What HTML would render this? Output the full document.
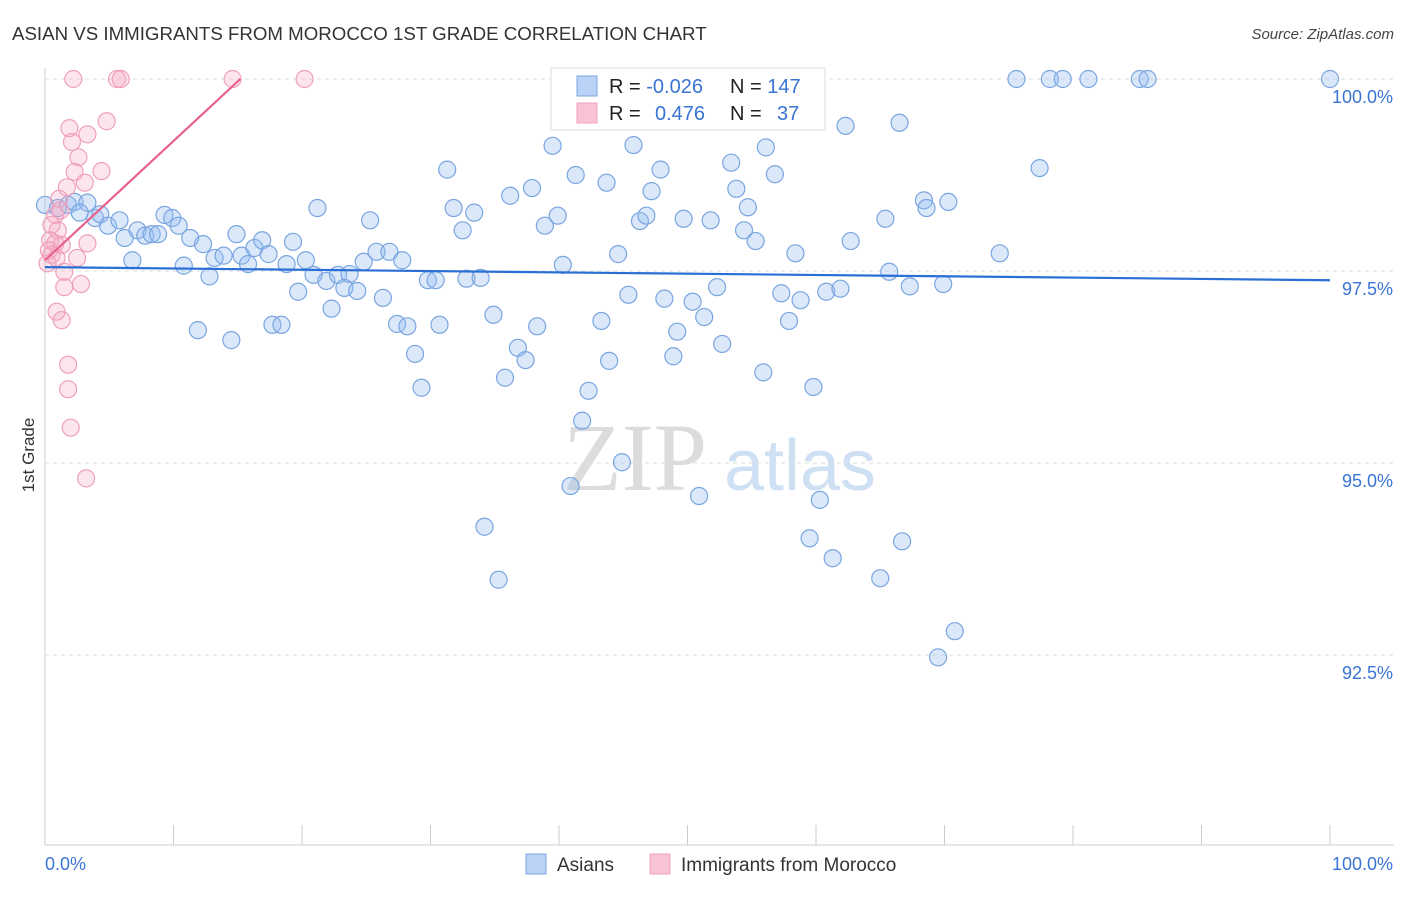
<!DOCTYPE html>
<html><head><meta charset="utf-8"><style>
body{margin:0;background:#fff;font-family:"Liberation Sans",sans-serif}
</style></head><body>
<svg id="chart" width="1406" height="892" xmlns="http://www.w3.org/2000/svg" font-family="Liberation Sans, sans-serif">
<text x="12" y="40" font-size="18.7" fill="#333">ASIAN VS IMMIGRANTS FROM MOROCCO 1ST GRADE CORRELATION CHART</text>
<text x="1394" y="39" font-size="15" fill="#444" text-anchor="end" font-style="italic">Source: ZipAtlas.com</text>
<text x="34" y="455" font-size="17" fill="#333" text-anchor="middle" transform="rotate(-90 34 455)">1st Grade</text>
<g id="grid"></g>
<g>
<text x="635" y="490" font-size="96" fill="#dcdcdc" text-anchor="middle" font-family="Liberation Serif, serif">ZIP</text>
<text x="800" y="490" font-size="72" fill="#cfe0f4" text-anchor="middle">atlas</text>
</g>
<g id="pts"></g>
<g id="lines"></g>
<g>
<rect x="551" y="68" width="274" height="62" fill="#fff" stroke="#ddd"/>
<rect x="577" y="76" width="20" height="20" fill="#b9d2f5" stroke="#7aa5e0"/>
<rect x="577" y="103" width="20" height="20" fill="#f8c4d4" stroke="#f0a0bc"/>
<text x="609" y="93" font-size="20" fill="#222">R = <tspan fill="#3a74d4">-0.026</tspan><tspan x="730">N = </tspan><tspan fill="#3a74d4">147</tspan></text>
<text x="609" y="120" font-size="20" fill="#222">R = <tspan x="655" fill="#3a74d4">0.476</tspan><tspan x="730">N = </tspan><tspan x="777" fill="#3a74d4">37</tspan></text>
</g>
<g>
<rect x="526" y="854" width="20" height="20" fill="#b9d2f5" stroke="#7aa5e0"/>
<text x="557" y="871" font-size="19" fill="#333">Asians</text>
<rect x="650" y="854" width="20" height="20" fill="#f8c4d4" stroke="#f0a0bc"/>
<text x="681" y="871" font-size="19" fill="#333">Immigrants from Morocco</text>
</g>
</svg>
<script>
const yTicks=[100,97.5,95,92.5];
const yTickLabels=["100.0%","97.5%","95.0%","92.5%"];
const xTickLabels=["0.0%","100.0%"];
const blueX=[0,1,1.8,2.3,3.3,2.7,3.9,4.3,4.9,5.8,6.2,7.2,7.8,8.3,8.8,9.3,9.9,10.4,11.3,12.3,6.8,10.8,11.9,12.8,13.2,13.9,14.5,14.9,15.3,15.8,16.3,16.9,17.4,17.7,18.4,18.8,19.3,19.7,20.3,20.9,21.2,21.9,22.3,22.8,23.3,23.7,24.3,24.8,25.3,25.8,26.3,26.8,27.4,27.8,28.2,28.8,29.3,29.8,30.4,30.7,31.3,31.8,32.5,32.8,33.4,33.9,34.2,34.9,35.3,35.8,36.2,36.8,37.4,37.9,38.3,38.9,39.5,39.9,40.3,40.9,41.3,41.8,42.3,43.3,43.7,43.9,44.6,44.9,45.4,45.8,46.3,46.8,47.2,47.9,48.2,48.9,49.2,49.7,50.4,50.9,51.3,51.8,52.3,52.7,53.4,53.8,54.4,54.7,55.3,55.9,56.1,56.8,57.3,57.9,58.4,58.8,59.5,59.8,60.3,60.8,61.3,61.9,62.3,62.7,65,65.4,65.7,66.5,66.7,67.3,68.4,68.6,69.5,69.9,70.3,70.8,74.3,75.6,77.4,78.2,79.2,81.2,85.2,85.8,100];
const blueY=[98.36,98.32,98.36,98.4,98.39,98.26,98.19,98.24,98.09,98.16,97.93,98.03,97.96,97.98,97.98,98.23,98.19,98.09,97.93,97.85,97.64,97.57,96.73,97.43,97.67,97.7,96.6,97.98,97.7,97.59,97.8,97.9,97.72,96.8,96.8,97.59,97.88,97.23,97.64,97.45,98.32,97.37,97.01,97.45,97.28,97.46,97.24,97.62,98.16,97.75,97.15,97.75,96.81,97.64,96.78,96.42,95.98,97.38,97.38,96.8,98.82,98.32,98.03,97.4,98.26,97.41,94.17,96.93,93.48,96.11,98.48,96.5,96.34,98.58,96.78,98.09,99.13,98.22,97.58,94.7,98.75,95.55,95.94,96.85,98.65,96.33,97.72,95.01,97.19,99.14,98.15,98.22,98.54,98.82,97.14,96.39,96.71,98.18,97.1,94.57,96.9,98.16,97.29,96.55,98.91,98.57,98.03,98.33,97.89,96.18,99.11,98.76,97.21,96.85,97.73,97.12,94.02,95.99,94.52,97.23,93.76,97.27,99.39,97.89,93.5,98.18,97.49,99.43,93.98,97.3,98.42,98.32,92.47,97.33,98.4,92.81,97.73,100,98.84,100,100,100,100,100,100];
const pinkX=[2.2,5.6,5.9,14.6,20.2,1.9,4.8,3.3,2.1,2.6,2.3,4.4,3.1,1.7,1.1,0.8,1.2,0.5,1,0.4,0.8,1.3,3.3,0.3,0.5,0.9,2.5,0.2,1.5,1.5,2.8,0.9,1.3,1.8,1.8,2,3.2];
const pinkY=[100,100,100,100,100,99.36,99.45,99.28,99.18,98.98,98.79,98.8,98.65,98.59,98.44,98.23,98.29,98.1,98.03,97.9,97.86,97.84,97.86,97.77,97.71,97.67,97.67,97.6,97.49,97.29,97.33,96.97,96.86,96.28,95.96,95.46,94.8];
const blueTrendX=[0,100], blueTrendY=[97.55,97.38];
const pinkTrendX=[0,15.2], pinkTrendY=[97.64,100];

const X0=45,X1=1330,Y100=79,PX_PER=76.8;
const sx=v=>X0+(X1-X0)*v/100;
const sy=v=>Y100+(100-v)*PX_PER;
const NS="http://www.w3.org/2000/svg";
function mk(tag,attrs,parent){const e=document.createElementNS(NS,tag);for(const k in attrs)e.setAttribute(k,attrs[k]);parent.appendChild(e);return e;}
const grid=document.getElementById('grid');
mk('line',{x1:45,y1:68,x2:45,y2:845,stroke:'#ccc'},grid);
mk('line',{x1:45,y1:845,x2:1394,y2:845,stroke:'#ccc'},grid);
yTicks.forEach((t,i)=>{
 const gl=mk('line',{x1:45,y1:sy(t),x2:1394,y2:sy(t),stroke:'#ddd','stroke-dasharray':'4,4'},grid);
 
 
 const tx=mk('text',{x:1393,y:sy(t)+24,'font-size':18,fill:'#3a74d4','text-anchor':'end'},grid);
 tx.textContent=yTickLabels[i];
 
 
});
for(let i=0;i<=10;i++){
 const tk=mk('line',{x1:sx(i*10),y1:825,x2:sx(i*10),y2:845,stroke:'#ccc'},grid);
 
 
}
[[0,'start',45],[100,'end',1393]].forEach((a,i)=>{
 const tx=mk('text',{x:a[2],y:870,'font-size':18,fill:'#3a74d4','text-anchor':a[1]},grid);
 tx.textContent=xTickLabels[i];
 
 
});
const pts=document.getElementById('pts');
blueX.forEach((v,i)=>{
 const c=mk('circle',{cx:sx(v),cy:sy(blueY[i]),r:8.5,fill:'rgba(150,190,240,0.35)',stroke:'#7aa5e0','stroke-width':1.2},pts);
 
 
});
pinkX.forEach((v,i)=>{
 const c=mk('circle',{cx:sx(v),cy:sy(pinkY[i]),r:8.5,fill:'rgba(245,170,195,0.3)',stroke:'#f0a0bc','stroke-width':1.2},pts);
 
 
});
const lines=document.getElementById('lines');
const bl=mk('line',{x1:sx(blueTrendX[0]),y1:sy(blueTrendY[0]),x2:sx(blueTrendX[1]),y2:sy(blueTrendY[1]),stroke:'#2a6fd6','stroke-width':2.2},lines);


const pl=mk('line',{x1:sx(pinkTrendX[0]),y1:sy(pinkTrendY[0]),x2:sx(pinkTrendX[1]),y2:sy(pinkTrendY[1]),stroke:'#e8608e','stroke-width':2.2},lines);


</script>
</body></html>
